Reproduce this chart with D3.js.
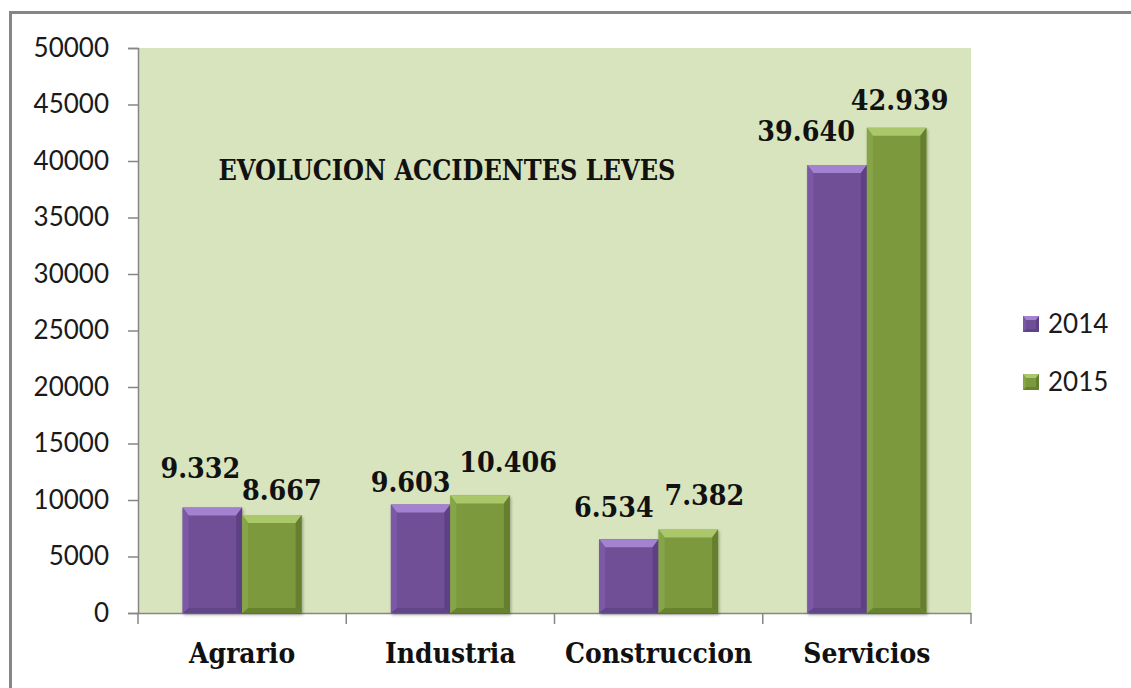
<!DOCTYPE html>
<html>
<head>
<meta charset="utf-8">
<script src="https://cdn.jsdelivr.net/npm/d3@7/dist/d3.min.js"></script>
<style>
  html, body { margin: 0; padding: 0; background: #ffffff; }
  svg { display: block; }
</style>
</head>
<body>
<svg id="chart" width="1131" height="688"></svg>
<script>
// ---- data ----
const categories = ["Agrario", "Industria", "Construccion", "Servicios"];
const seriesNames = ["2014", "2015"];
const values2014 = [9332, 9603, 6534, 39640];
const values2015 = [8667, 10406, 7382, 42939];
const yTickValues = [0, 5000, 10000, 15000, 20000, 25000, 30000, 35000, 40000, 45000, 50000];
const chartTitle = "EVOLUCION ACCIDENTES LEVES";

// ---- layout (manual nudges of data labels, as in the original) ----
const labelNudge = {
  "2014": { dx: [-12, -10, -15, -31], dy: [-30, -12, -22, -24] },
  "2015": { dx: [10, 28, 16, 3], dy: [-15, -23, -25, -18] }
};

const W = 1131, H = 688;
const plot = { left: 138, right: 971, top: 48, bottom: 613 };
const colors = {
  "2014": { face: "#6f4f97", top: "#a482d2", left: "#7b59a6", right: "#5e4184", bottom: "#614488" },
  "2015": { face: "#7b993d", top: "#aac86b", left: "#86a548", right: "#657f2f", bottom: "#68832f" }
};
const axisColor = "#868686";
const serif = "'DejaVu Serif', serif";
const sans = "Lato, 'Open Sans', sans-serif";

const locale = d3.formatLocale({ decimal: ",", thousands: ".", grouping: [3], currency: ["", " €"] });
const fmt = locale.format(",d");

const svg = d3.select("#chart");

// outer chart border (extends beyond the picture at right/bottom)
svg.append("rect")
  .attr("x", 10.5).attr("y", 12.5)
  .attr("width", W + 20).attr("height", H + 20)
  .attr("fill", "#ffffff")
  .attr("stroke", axisColor).attr("stroke-width", 3);

// scales
const x = d3.scaleBand().domain(categories).range([plot.left, plot.right]).paddingInner(0).paddingOuter(0);
const xs = d3.scaleBand().domain(seriesNames).range([0, x.bandwidth()]).paddingInner(0).paddingOuter(0.75);
const y = d3.scaleLinear().domain([0, 50000]).range([plot.bottom, plot.top]);

// plot background
svg.append("rect")
  .attr("x", plot.left).attr("y", plot.top)
  .attr("width", plot.right - plot.left).attr("height", plot.bottom - plot.top)
  .attr("fill", "#d7e4bd");

// shadow filter
const defs = svg.append("defs");
const f = defs.append("filter").attr("id", "shadow").attr("x", "-10%").attr("y", "-10%").attr("width", "130%").attr("height", "130%");
f.append("feDropShadow").attr("dx", 1).attr("dy", 2).attr("stdDeviation", 1.5).attr("flood-color", "#000").attr("flood-opacity", 0.3);

function bevelRect(g, bx, by, bw, bh, c, bt, bs, bb) {
  bt = Math.min(bt, bh / 2); bb = Math.min(bb, bh / 2); bs = Math.min(bs, bw / 2);
  const grp = g.append("g");
  grp.append("rect").attr("x", bx).attr("y", by).attr("width", bw).attr("height", bh).attr("fill", c.face);
  const poly = (pts, fill) => grp.append("polygon").attr("points", pts.map(p => p.join(",")).join(" ")).attr("fill", fill);
  const r = bx + bw, btm = by + bh;
  poly([[bx, by], [r, by], [r - bs, by + bt], [bx + bs, by + bt]], c.top);
  poly([[bx, btm], [r, btm], [r - bs, btm - bb], [bx + bs, btm - bb]], c.bottom);
  poly([[bx, by], [bx + bs, by + bt], [bx + bs, btm - bb], [bx, btm]], c.left);
  poly([[r, by], [r - bs, by + bt], [r - bs, btm - bb], [r, btm]], c.right);
  return grp;
}

// y axis
const yAxis = d3.axisLeft(y).tickValues(yTickValues).tickSize(10).tickPadding(19).tickFormat(d3.format("d"));
const gy = svg.append("g").attr("transform", `translate(${plot.left},0)`).call(yAxis);
gy.select(".domain").attr("stroke", axisColor).attr("stroke-width", 1.5);
gy.selectAll(".tick line").attr("stroke", axisColor).attr("stroke-width", 1.5);
gy.selectAll(".tick text").attr("font-family", sans).attr("font-size", 26).attr("fill", "#1a1a1a");

// x axis
const xAxis = d3.axisBottom(x).tickSize(0).tickSizeOuter(0);
const gx = svg.append("g").attr("transform", `translate(0,${plot.bottom})`).call(xAxis);
gx.select(".domain").attr("stroke", axisColor).attr("stroke-width", 1.5);
gx.selectAll(".tick text")
  .attr("y", 50).attr("dy", 0)
  .attr("font-family", serif).attr("font-weight", "bold").attr("font-size", 27).attr("fill", "#111")
  .each(function () { const n = this.getComputedTextLength(); d3.select(this).attr("textLength", n * 0.93).attr("lengthAdjust", "spacingAndGlyphs"); });
// category boundary ticks
const boundaries = categories.map(c => x(c)).concat([x(categories[categories.length - 1]) + x.bandwidth()]);
gx.selectAll(".bound").data(boundaries).enter().append("line")
  .attr("x1", d => d).attr("x2", d => d).attr("y1", 0).attr("y2", 11)
  .attr("stroke", axisColor).attr("stroke-width", 1.5);

// bars
const seriesValues = { "2014": values2014, "2015": values2015 };
const barsG = svg.append("g").attr("filter", "url(#shadow)");
seriesNames.forEach(s => {
  seriesValues[s].forEach((v, i) => {
    const bx = x(categories[i]) + xs(s);
    bevelRect(barsG, bx, y(v), xs.bandwidth(), y(0) - y(v), colors[s], 8, 6, 5);
  });
});

// data labels
const labelsG = svg.append("g");
seriesNames.forEach(s => {
  seriesValues[s].forEach((v, i) => {
    const cx = x(categories[i]) + xs(s) + xs.bandwidth() / 2 + labelNudge[s].dx[i];
    const t = labelsG.append("text")
      .attr("x", cx).attr("y", y(v) + labelNudge[s].dy[i])
      .attr("text-anchor", "middle")
      .attr("font-family", serif).attr("font-weight", "bold").attr("font-size", 28).attr("fill", "#111")
      .text(fmt(v));
    const n = t.node().getComputedTextLength();
    t.attr("textLength", n * 0.91).attr("lengthAdjust", "spacingAndGlyphs");
  });
});

// title
const title = svg.append("text")
  .attr("x", 447).attr("y", 180)
  .attr("text-anchor", "middle")
  .attr("font-family", serif).attr("font-weight", "bold").attr("font-size", 27).attr("fill", "#111")
  .text(chartTitle);
const tn = title.node().getComputedTextLength();
title.attr("textLength", Math.min(tn, 457)).attr("lengthAdjust", "spacingAndGlyphs");

// legend
const legend = svg.append("g").attr("transform", "translate(1023,0)");
seriesNames.forEach((s, i) => {
  const cy = 324 + i * 58;
  bevelRect(legend, 0, cy - 8, 16, 16, colors[s], 4, 3, 3);
  legend.append("text")
    .attr("x", 25).attr("y", cy).attr("dy", "0.36em")
    .attr("font-family", sans).attr("font-size", 26).attr("fill", "#1a1a1a")
    .text(s);
});
</script>
</body>
</html>
